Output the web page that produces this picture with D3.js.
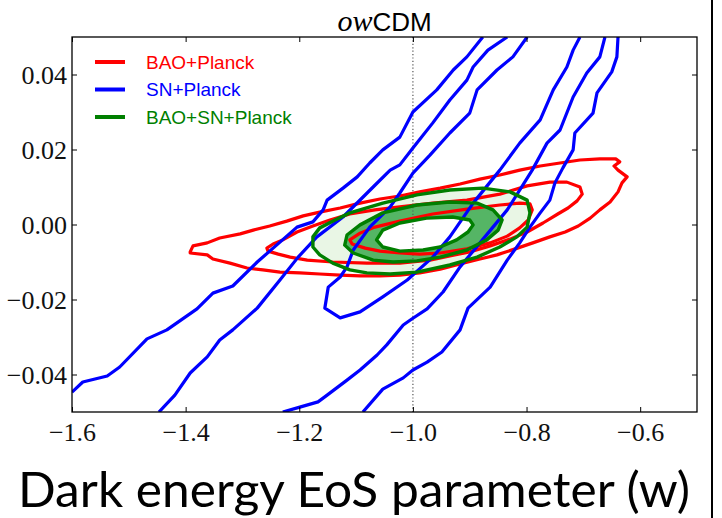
<!DOCTYPE html>
<html>
<head>
<meta charset="utf-8">
<script src="https://cdn.jsdelivr.net/npm/d3@7/dist/d3.min.js"></script>
<style>
  body { margin: 0; background: #fff; }
  svg { display: block; }
</style>
</head>
<body>
<svg id="svg" width="722" height="518"></svg>
<script>
// axis ticks
let wTicks = [-1.6, -1.4, -1.2, -1.0, -0.8, -0.6];
let okTicks = [-0.04, -0.02, 0.00, 0.02, 0.04];

let legendNames = ["BAO+Planck", "SN+Planck", "BAO+SN+Planck"];

/* SN+Planck contour lines, [w, Omega_k] */
let snOuterLeft = [[-1.600,-0.0447],[-1.581,-0.0420],[-1.538,-0.0404],[-1.516,-0.0380],[-1.468,-0.0305],
  [-1.433,-0.0281],[-1.380,-0.0225],[-1.352,-0.0183],[-1.317,-0.0164],[-1.274,-0.0100],[-1.234,-0.0047],
  [-1.204,-0.0007],[-1.176,0.0007],[-1.158,0.0039],[-1.151,0.0065],[-1.123,0.0097],[-1.098,0.0127],
  [-1.076,0.0164],[-1.053,0.0199],[-1.023,0.0233],[-1.000,0.0300],[-0.958,0.0359],[-0.929,0.0412],
  [-0.905,0.0447],[-0.877,0.0500]];
let snMidLeft = [[-1.447,-0.0500],[-1.419,-0.0455],[-1.392,-0.0396],[-1.362,-0.0353],[-1.340,-0.0308],
  [-1.317,-0.0281],[-1.274,-0.0223],[-1.234,-0.0148],[-1.202,-0.0087],[-1.169,-0.0033],[-1.123,0.0020],
  [-1.070,0.0100],[-1.040,0.0145],[-1.023,0.0159],[-1.000,0.0204],[-0.965,0.0271],[-0.935,0.0332],
  [-0.905,0.0385],[-0.894,0.0420],[-0.868,0.0465],[-0.834,0.0500]];
let snInner = [[-0.799,0.0500],[-0.824,0.0447],[-0.852,0.0412],[-0.887,0.0359],[-0.900,0.0297],
  [-0.935,0.0244],[-0.970,0.0185],[-1.000,0.0137],[-1.023,0.0084],[-1.040,0.0047],[-1.076,-0.0007],
  [-1.105,-0.0068],[-1.116,-0.0113],[-1.128,-0.0140],[-1.149,-0.0167],[-1.155,-0.0223],[-1.128,-0.0249],
  [-1.093,-0.0233],[-1.053,-0.0193],[-1.010,-0.0148],[-0.965,-0.0087],[-0.935,-0.0033],[-0.894,0.0057],
  [-0.847,0.0145],[-0.812,0.0217],[-0.776,0.0279],[-0.753,0.0359],[-0.729,0.0420],[-0.718,0.0465],
  [-0.706,0.0500]];
let snMidRight = [[-1.229,-0.0500],[-1.199,-0.0487],[-1.167,-0.0473],[-1.151,-0.0455],[-1.116,-0.0415],
  [-1.093,-0.0388],[-1.063,-0.0348],[-1.046,-0.0321],[-1.017,-0.0268],[-1.002,-0.0252],[-0.975,-0.0225],
  [-0.947,-0.0180],[-0.917,-0.0113],[-0.882,-0.0049],[-0.834,0.0039],[-0.790,0.0145],[-0.764,0.0217],
  [-0.741,0.0252],[-0.718,0.0340],[-0.694,0.0404],[-0.671,0.0447],[-0.662,0.0500]];
let snOuterRight = [[-1.088,-0.0500],[-1.053,-0.0439],[-1.017,-0.0409],[-1.000,-0.0388],[-0.975,-0.0367],
  [-0.949,-0.0340],[-0.917,-0.0281],[-0.903,-0.0223],[-0.864,-0.0167],[-0.834,-0.0095],[-0.812,-0.0049],
  [-0.794,-0.0007],[-0.776,0.0031],[-0.759,0.0065],[-0.750,0.0111],[-0.736,0.0151],[-0.718,0.0199],
  [-0.715,0.0244],[-0.683,0.0297],[-0.676,0.0351],[-0.650,0.0407],[-0.641,0.0447],[-0.639,0.0500]];

/* BAO+Planck closed contours */
let baoOuter = [[-1.392,-0.0073],[-1.387,-0.0057],[-1.362,-0.0049],[-1.340,-0.0036],[-1.304,-0.0025],
  [-1.281,-0.0015],[-1.252,-0.0004],[-1.222,0.0009],[-1.193,0.0023],[-1.164,0.0033],[-1.128,0.0044],
  [-1.093,0.0057],[-1.058,0.0068],[-1.023,0.0076],[-0.988,0.0087],[-0.952,0.0097],[-0.917,0.0108],
  [-0.882,0.0121],[-0.847,0.0132],[-0.812,0.0145],[-0.776,0.0156],[-0.741,0.0164],[-0.706,0.0172],
  [-0.671,0.0175],[-0.643,0.0175],[-0.636,0.0167],[-0.646,0.0156],[-0.639,0.0145],[-0.623,0.0127],
  [-0.632,0.0111],[-0.639,0.0087],[-0.653,0.0060],[-0.671,0.0039],[-0.688,0.0017],[-0.709,-0.0004],
  [-0.732,-0.0020],[-0.759,-0.0033],[-0.789,-0.0049],[-0.820,-0.0065],[-0.852,-0.0081],[-0.882,-0.0092],
  [-0.917,-0.0105],[-0.952,-0.0119],[-0.988,-0.0129],[-1.023,-0.0135],[-1.058,-0.0137],[-1.093,-0.0137],
  [-1.128,-0.0135],[-1.164,-0.0132],[-1.199,-0.0129],[-1.234,-0.0127],[-1.264,-0.0121],[-1.292,-0.0116],
  [-1.322,-0.0103],[-1.352,-0.0092],[-1.362,-0.0081],[-1.392,-0.0076]];
let baoMid = [[-1.257,-0.0063],[-1.246,-0.0052],[-1.229,-0.0041],[-1.204,-0.0020],[-1.176,-0.0004],
  [-1.146,0.0012],[-1.111,0.0028],[-1.067,0.0039],[-1.023,0.0047],[-0.965,0.0057],[-0.905,0.0065],
  [-0.847,0.0081],[-0.799,0.0103],[-0.759,0.0113],[-0.729,0.0113],[-0.706,0.0100],[-0.702,0.0081],
  [-0.711,0.0063],[-0.727,0.0044],[-0.745,0.0028],[-0.771,0.0004],[-0.799,-0.0020],[-0.829,-0.0039],
  [-0.864,-0.0057],[-0.900,-0.0073],[-0.935,-0.0084],[-0.970,-0.0095],[-1.023,-0.0103],[-1.081,-0.0103],
  [-1.141,-0.0100],[-1.186,-0.0095],[-1.216,-0.0087],[-1.237,-0.0079],[-1.255,-0.0071]];
let baoInner = [[-1.111,-0.0041],[-1.093,-0.0023],[-1.067,-0.0007],[-1.023,0.0009],[-0.965,0.0028],
  [-0.905,0.0041],[-0.847,0.0052],[-0.812,0.0057],[-0.794,0.0055],[-0.790,0.0039],[-0.797,0.0012],
  [-0.812,-0.0009],[-0.834,-0.0031],[-0.864,-0.0049],[-0.905,-0.0065],[-0.952,-0.0076],[-0.988,-0.0079],
  [-1.023,-0.0076],[-1.058,-0.0071],[-1.084,-0.0063],[-1.107,-0.0052]];

/* BAO+SN+Planck closed contours */
let allOuter = [[-1.176,-0.0060],[-1.176,-0.0033],[-1.164,-0.0009],[-1.137,0.0012],[-1.111,0.0031],
  [-1.053,0.0057],[-0.993,0.0079],[-0.935,0.0092],[-0.877,0.0097],[-0.829,0.0087],[-0.799,0.0065],
  [-0.794,0.0031],[-0.799,-0.0007],[-0.817,-0.0033],[-0.847,-0.0060],[-0.887,-0.0087],[-0.935,-0.0108],
  [-0.993,-0.0127],[-1.040,-0.0132],[-1.081,-0.0129],[-1.111,-0.0121],[-1.141,-0.0103],[-1.164,-0.0081]];
let allMid = [[-1.120,-0.0055],[-1.116,-0.0028],[-1.093,-0.0001],[-1.053,0.0031],[-0.993,0.0052],
  [-0.935,0.0060],[-0.887,0.0057],[-0.859,0.0039],[-0.843,0.0012],[-0.850,-0.0015],[-0.870,-0.0041],
  [-0.905,-0.0068],[-0.952,-0.0087],[-0.993,-0.0097],[-1.035,-0.0100],[-1.070,-0.0095],[-1.105,-0.0076]];
let allInner = [[-1.064,-0.0041],[-1.053,-0.0015],[-1.023,0.0004],[-0.976,0.0017],[-0.930,0.0020],
  [-0.900,0.0012],[-0.894,-0.0001],[-0.903,-0.0020],[-0.923,-0.0041],[-0.952,-0.0060],[-0.982,-0.0068],
  [-1.023,-0.0071],[-1.053,-0.0060]];

let svg = d3.select("#svg");
let mLeft = 72, mRight = 697, mTop = 37, mBottom = 412;

let x = d3.scaleLinear().domain([-1.6, -0.5]).range([mLeft, mRight]);
let y = d3.scaleLinear().domain([-0.05, 0.05]).range([mBottom, mTop]);

let openLine = d3.line().x(d => x(d[0])).y(d => y(d[1]));
let closedLine = d3.line().x(d => x(d[0])).y(d => y(d[1])).curve(d3.curveLinearClosed);

svg.append("defs").append("clipPath").attr("id", "plotclip")
  .append("rect").attr("x", mLeft).attr("y", mTop)
  .attr("width", mRight - mLeft).attr("height", mBottom - mTop);

let plot = svg.append("g").attr("clip-path", "url(#plotclip)");

/* filled regions of the joint fit */
plot.append("path").attr("d", closedLine(allOuter)).attr("fill", "#e9f6e5");
plot.append("path").attr("d", closedLine(allMid)).attr("fill", "#55b565");
plot.append("path").attr("d", closedLine(allInner)).attr("fill", "#ffffff");

/* w = -1 reference */
plot.append("line")
  .attr("x1", x(-1)).attr("x2", x(-1))
  .attr("y1", mTop).attr("y2", mBottom)
  .attr("stroke", "#555").attr("stroke-width", 1.2)
  .attr("stroke-dasharray", "1.2,2.2");

/* BAO+Planck */
[baoOuter, baoMid, baoInner].forEach(c => {
  plot.append("path").attr("d", closedLine(c))
    .attr("fill", "none").attr("stroke", "#ff0000")
    .attr("stroke-width", 3.2).attr("stroke-linejoin", "round");
});

/* SN+Planck */
[snOuterLeft, snMidLeft, snInner, snMidRight, snOuterRight].forEach(c => {
  plot.append("path").attr("d", openLine(c))
    .attr("fill", "none").attr("stroke", "#0000ff")
    .attr("stroke-width", 3.2).attr("stroke-linejoin", "round");
});

/* BAO+SN+Planck */
[allOuter, allMid, allInner].forEach(c => {
  plot.append("path").attr("d", closedLine(c))
    .attr("fill", "none").attr("stroke", "#007f00")
    .attr("stroke-width", 3.4).attr("stroke-linejoin", "round");
});

/* axes, ticks pointing inward */
let tickFont = "'Liberation Serif', 'Times New Roman', serif";

let xAxis = svg.append("g").attr("transform", `translate(0,${mBottom})`)
  .call(d3.axisBottom(x).tickValues(wTicks).tickFormat(d3.format(".1f"))
    .tickSizeInner(-5).tickSizeOuter(0).tickPadding(11));
let yAxis = svg.append("g").attr("transform", `translate(${mLeft},0)`)
  .call(d3.axisLeft(y).tickValues(okTicks).tickFormat(d3.format(".2f"))
    .tickSizeInner(-5).tickSizeOuter(0).tickPadding(5));
svg.append("g").attr("transform", `translate(0,${mTop})`)
  .call(d3.axisTop(x).tickValues(wTicks).tickFormat("").tickSizeInner(-5).tickSizeOuter(0));
svg.append("g").attr("transform", `translate(${mRight},0)`)
  .call(d3.axisRight(y).tickValues(okTicks).tickFormat("").tickSizeInner(-5).tickSizeOuter(0));

svg.selectAll(".domain").remove();
svg.selectAll(".tick line").attr("stroke", "#000").attr("stroke-width", 1);
xAxis.selectAll("text").attr("font-family", tickFont).attr("font-size", 26).attr("fill", "#111");
yAxis.selectAll("text").attr("font-family", tickFont).attr("font-size", 26).attr("fill", "#111")
  .attr("dy", "0.33em");

svg.append("rect")
  .attr("x", mLeft).attr("y", mTop)
  .attr("width", mRight - mLeft).attr("height", mBottom - mTop)
  .attr("fill", "none").attr("stroke", "#000").attr("stroke-width", 1.3);

/* title */
let title = svg.append("text")
  .attr("x", (mLeft + mRight) / 2).attr("y", 31)
  .attr("text-anchor", "middle");
title.append("tspan").text("ow")
  .attr("font-family", "'Liberation Serif', serif").attr("font-style", "italic").attr("font-size", 30);
title.append("tspan").text("CDM")
  .attr("font-family", "'Liberation Sans', Arial, sans-serif").attr("font-size", 26);

/* legend */
let legendColors = ["#ff0000", "#0000ff", "#007f00"];
let legend = svg.append("g");
legendNames.forEach((name, i) => {
  let ly = 62 + i * 27.5;
  legend.append("line")
    .attr("x1", 95).attr("x2", 125).attr("y1", ly).attr("y2", ly)
    .attr("stroke", legendColors[i]).attr("stroke-width", 4);
  legend.append("text")
    .attr("x", 146).attr("y", ly + 6.5)
    .attr("font-family", "'Liberation Sans', Arial, sans-serif")
    .attr("font-size", 19)
    .attr("fill", legendColors[i])
    .text(name);
});

/* x axis label */
svg.append("text")
  .attr("x", 18).attr("y", 507)
  .attr("font-family", "Lato, 'Open Sans', sans-serif")
  .attr("font-size", 48)
  .attr("textLength", 672).attr("lengthAdjust", "spacingAndGlyphs")
  .attr("fill", "#000")
  .text("Dark energy EoS parameter (w)");

/* edge of the neighbouring panel */
svg.append("line")
  .attr("x1", 712).attr("x2", 712).attr("y1", 0).attr("y2", 518)
  .attr("stroke", "#000").attr("stroke-width", 2);
</script>
</body>
</html>
